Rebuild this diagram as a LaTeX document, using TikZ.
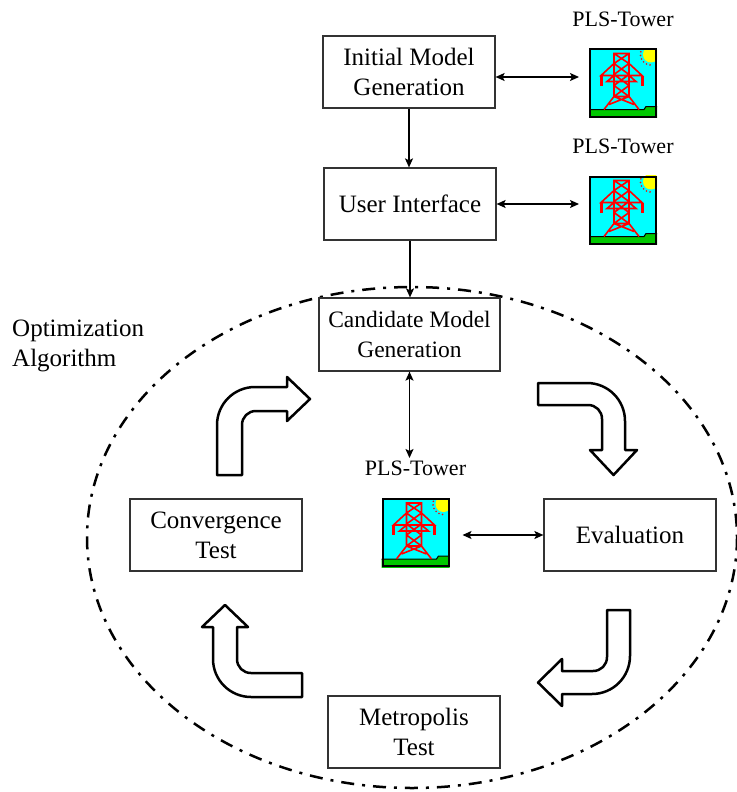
\documentclass[tikz,border=0pt]{standalone}
\usepackage{fontspec}
\setmainfont{Liberation Serif}
\usepackage{tikz}
\usetikzlibrary{arrows.meta}

\definecolor{plsgreen}{RGB}{0,200,0}
\definecolor{plscyan}{RGB}{0,255,255}
\definecolor{plsred}{RGB}{255,0,0}
\definecolor{plsyellow}{RGB}{255,255,0}

\begin{document}
\begin{tikzpicture}[
    x=1pt, y=-1pt,
    box/.style={
    draw=black!80, line width=1.2pt, align=center,
    minimum width=172, minimum height=72,
    font=\fontsize{25}{30}\selectfont},
    tower/.style={
    inner sep=0pt, outer sep=0pt,
    minimum width=68, minimum height=69,
    label={[inner sep=0pt, label distance=22pt,
    font=\fontsize{22}{26}\selectfont]above:PLS-Tower}},
    plsicon/.pic={
      \fill[plscyan] (0,0) rectangle (68,69);
      \begin{scope}
        \clip (0,0) rectangle (68,69);
        % ground strip
        \fill[plsgreen] (0,61) -- (55,61) -- (57,58) -- (70,58) -- (70,70)
          -- (0,70) -- cycle;
        \draw[line width=1pt] (0,61) -- (55,61) -- (57,58) -- (70,58);
        % sun in the corner
        \fill[plsyellow] (62,6) circle (8);
        \foreach \a in {95,115,...,195}
          \fill[plsred] (62,6) ++(\a:10.5) circle (0.9);
        % lattice tower
        \draw[plsred, line width=1.6pt]
          (25,5) rectangle (40,48)
          (25,5) -- (40,15) (40,5) -- (25,15)
          (25,15) -- (40,26) (40,15) -- (25,26)
          (25,26) -- (40,37) (40,26) -- (25,37)
          (25,37) -- (40,48) (40,37) -- (25,48)
          (25,15) -- (12,27) -- (53,27) -- (40,15)
          (25,27) -- (18,33) -- (47,33) -- (40,27)
          (25,48) -- (15,61) (40,48) -- (50,61)
          (25,48) -- (45,56) (40,48) -- (20,56);
        \draw[plsred, line width=3pt] (12,27) -- (12,37) (53,27) -- (53,37);
      \end{scope}
      \draw[line width=2pt] (1,1) rectangle (67,68);
    },
    link/.style={<->, line width=1.4pt,
    >={Stealth[length=9pt, width=8pt, inset=2pt]}},
    turn/.style={draw, line width=2.5pt, fill=white, line join=round}
    ]

    \useasboundingbox (0,0) rectangle (736,792);

    % algorithm loop boundary
    \draw[line width=2.5pt, dash pattern=on 13pt off 8pt on 3pt off 8pt]
      (412,537.5) ellipse [x radius=325, y radius=250.5];

    \node[anchor=north west, align=left, inner sep=0pt,
      font=\fontsize{25}{30}\selectfont] (optalg) at (12,320)
      {Optimization\\Algorithm};

    \node[box] (initial) at (409,72) {Initial Model\\Generation};
    \node[box] (interface) at (410,204) {User Interface};
    \node[box, fill=white, minimum width=181, minimum height=73,
      font=\fontsize{23.5}{30}\selectfont]
      (candidate) at (409.5,334.5) {Candidate Model\\Generation};
    \node[box] (evaluation) at (630,535) {Evaluation};
    \node[box] (convergence) at (216,535) {Convergence\\Test};
    \node[box] (metropolis) at (414,732) {Metropolis\\Test};

    \node[tower] (tower1) at (623,83) {};
    \node[tower] (tower2) at (623,210) {};
    \node[tower] (tower3) at (415.5,532.5) {};
    \foreach \t in {tower1,tower2,tower3}
      \pic at (\t.north west) {plsicon};

    \draw[link, shorten >=10pt] ([yshift=-5]initial.east)
      -- ([yshift=-5]initial.east -| tower1.west);
    \draw[link, shorten >=10pt] (interface.east)
      -- (interface.east -| tower2.west);
    \draw[link, -{Stealth[length=9pt, width=8pt, inset=2pt]}]
      (initial.south) -- (initial.south |- interface.north);
    \draw[link, -{Stealth[length=9pt, width=8pt, inset=2pt]}]
      (interface.south) -- (interface.south |- candidate.north);
    \draw[link, shorten >=40pt] (candidate.south)
      -- (candidate.south |- tower3.north);
    \draw[link, shorten <=13pt] (evaluation.west -| tower3.east)
      -- (evaluation.west);

    % bent block arrows round the loop
    \draw[turn] (217,475) -- (217,425) .. controls (217,404) and (234,387) ..
      (255,387) -- (287,387) -- (287,377) -- (310,399) -- (287,421) -- (287,411)
      -- (256,411) .. controls (248,411) and (242,417) .. (242,425) -- (242,475)
      -- cycle;
    \draw[turn] (538,383) -- (587,383) .. controls (608,383) and (625,400) ..
      (625,421) -- (625,450) -- (637,450) -- (613.5,475) -- (590,450) -- (602,450)
      -- (602,419) .. controls (602,411) and (596,405) .. (588,405) -- (538,405)
      -- cycle;
    \draw[turn] (607,610) -- (630,610) -- (630,656) .. controls (630,677) and
      (613,694) .. (592,694) -- (562,694) -- (562,706) -- (538,682.5) -- (562,659)
      -- (562,671) -- (593,671) .. controls (601,671) and (607,665) .. (607,657)
      -- cycle;
    \draw[turn] (302,673) -- (251,673) .. controls (243,673) and (237,667) ..
      (237,659) -- (237,627) -- (248,627) -- (225,605) -- (202,627) -- (213,627)
      -- (213,659) .. controls (213,680) and (230,697) .. (251,697) -- (302,697)
      -- cycle;
\end{tikzpicture}
\end{document}
